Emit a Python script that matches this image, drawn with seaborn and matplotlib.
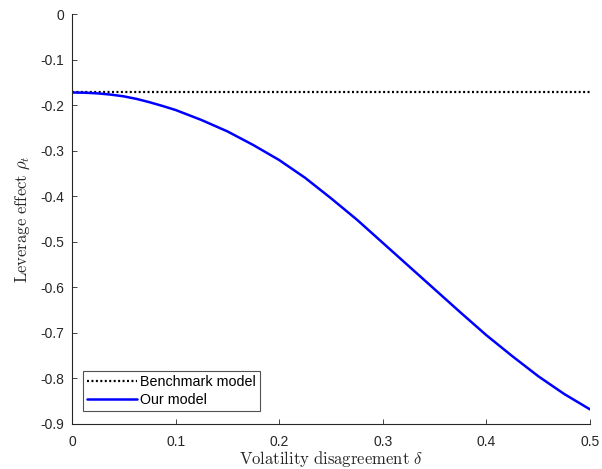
import matplotlib
matplotlib.use("Agg")
import matplotlib.pyplot as plt
import seaborn as sns
import pandas as pd

# Data
delta = [0.0, 0.0125, 0.025, 0.0375, 0.05, 0.0625, 0.075, 0.0875, 0.1, 0.125, 0.15,
         0.175, 0.2, 0.225, 0.25, 0.275, 0.3, 0.325, 0.35, 0.375, 0.4, 0.425,
         0.45, 0.475, 0.5]
our_model = [-0.1725, -0.173, -0.1745, -0.1772, -0.181, -0.1867, -0.194, -0.2022,
             -0.211, -0.233, -0.258, -0.288, -0.321, -0.360, -0.405, -0.452,
             -0.503, -0.554, -0.605, -0.656, -0.706, -0.752, -0.796, -0.835, -0.869]
benchmark = [-0.1725] * len(delta)

x_ticks = [0, 0.1, 0.2, 0.3, 0.4, 0.5]
x_tick_labels = ["0", "0.1", "0.2", "0.3", "0.4", "0.5"]
y_ticks = [0, -0.1, -0.2, -0.3, -0.4, -0.5, -0.6, -0.7, -0.8, -0.9]
y_tick_labels = ["0", "-0.1", "-0.2", "-0.3", "-0.4", "-0.5", "-0.6", "-0.7", "-0.8", "-0.9"]

sns.set_theme(style="white")
plt.rcParams["font.family"] = ["Liberation Sans", "DejaVu Sans"]
plt.rcParams["mathtext.fontset"] = "cm"

W, H = 602, 469
fig = plt.figure(figsize=(W / 100, H / 100), dpi=100)
fig.patch.set_facecolor("white")
left, right, top, bottom = 72, 590, 14, 423.5
ax = fig.add_axes([left / W, 1 - bottom / H, (right - left) / W, (bottom - top) / H])
ax.set_facecolor("white")

df_b = pd.DataFrame({"delta": delta, "rho": benchmark})
df_o = pd.DataFrame({"delta": delta, "rho": our_model})
sns.lineplot(data=df_b, x="delta", y="rho", ax=ax, color="black", linewidth=1.6,
             linestyle=(0, (0.9, 1.1)), label="Benchmark model")
sns.lineplot(data=df_o, x="delta", y="rho", ax=ax, color=(0, 0, 1), linewidth=1.8,
             label="Our model")

ax.set_xlim(0, 0.5)
ax.set_ylim(-0.9, 0)
ax.set_xticks(x_ticks)
ax.set_xticklabels(x_tick_labels)
ax.set_yticks(y_ticks)
ax.set_yticklabels(y_tick_labels)

axcol = "#262626"
for s in ["top", "right"]:
    ax.spines[s].set_visible(False)
for s in ["left", "bottom"]:
    ax.spines[s].set_color(axcol)
    ax.spines[s].set_linewidth(0.8)

ax.tick_params(axis="both", direction="in", length=3.5, width=0.6, colors=axcol,
               labelsize=10, labelcolor=axcol)
ax.tick_params(axis="x", pad=8.5)
ax.tick_params(axis="y", pad=5.5)
ax.tick_params(left=True, bottom=True)

ax.set_xlabel(r"$\mathrm{Volatility\ disagreement}\ \delta$", fontsize=12, color=axcol)
ax.set_ylabel(r"$\mathrm{Leverage\ effect}\ \rho_t$", fontsize=12, color=axcol)
ax.xaxis.label.set_va("baseline")
ax.xaxis.set_label_coords(0.5, -(464 - bottom) / (bottom - top))
ax.yaxis.set_label_coords(-(72 - 32) / (right - left), 0.5)

leg = ax.legend(loc="lower left", bbox_to_anchor=((83 - left) / (right - left), (bottom - 411) / (bottom - top)),
                fontsize=10.3, frameon=True, fancybox=False, handlelength=3.5,
                handletextpad=0.2, borderpad=0.3, labelspacing=0.25, borderaxespad=0)
leg.get_frame().set_edgecolor(axcol)
leg.get_frame().set_linewidth(0.8)
for t in leg.get_texts():
    t.set_color("black")

fig.savefig("out.png", dpi=100, facecolor="white")
